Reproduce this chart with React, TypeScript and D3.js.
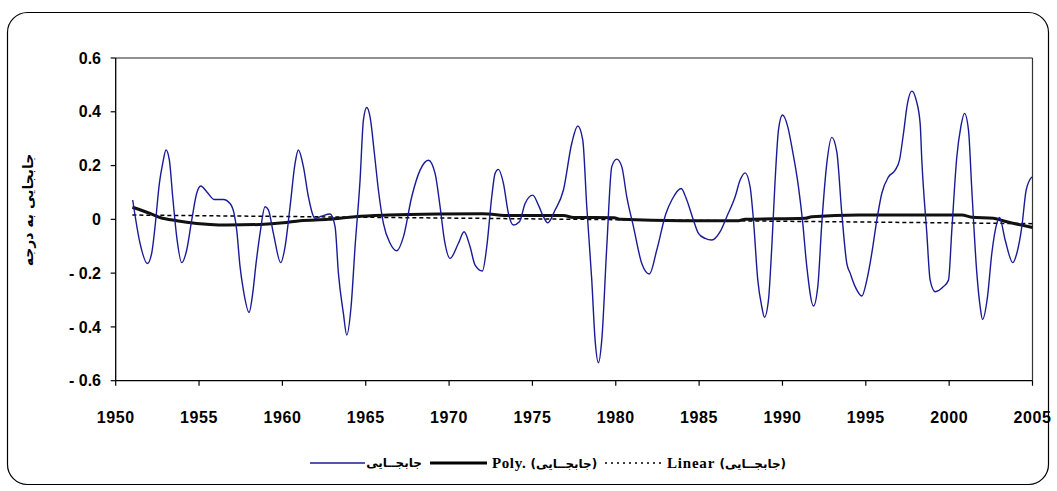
import React from "react";
import * as d3 from "d3";

const xTickYears = [1950, 1955, 1960, 1965, 1970, 1975, 1980, 1985, 1990, 1995, 2000, 2005];
const yTickValues = [-0.6, -0.4, -0.2, 0, 0.2, 0.4, 0.6];
const yTickLabels = ["-0.6", "-0.4", "-0.2", "0", "0.2", "0.4", "0.6"];

const seriesName = "جابجــایی";
const yAxisTitle = "جابجایی به درجه";

// observed displacement series (year, value)
const obsYears = [
  1951.02, 1951.46, 1951.9, 1952.16, 1952.36, 1952.62, 1952.82, 1953.02, 1953.22, 1953.42,
  1953.66, 1953.96, 1954.26, 1954.56, 1954.86, 1955.1, 1955.46, 1955.9, 1956.46, 1956.86,
  1957.1, 1957.26, 1957.46, 1957.66, 1958.0, 1958.22, 1958.42, 1958.66, 1958.96, 1959.16,
  1959.46, 1959.9, 1960.16, 1960.46, 1960.76, 1960.96, 1961.26, 1961.56, 1961.96, 1962.36,
  1962.86, 1963.16, 1963.36, 1963.66, 1963.86, 1964.12, 1964.36, 1964.66, 1964.86, 1965.06,
  1965.26, 1965.52, 1965.76, 1966.06, 1966.46, 1966.86, 1967.26, 1967.76, 1968.26, 1968.76,
  1969.16, 1969.46, 1969.72, 1970.06, 1970.56, 1970.9, 1971.26, 1971.56, 1972.0, 1972.26,
  1972.56, 1972.76, 1972.96, 1973.26, 1973.56, 1973.86, 1974.22, 1974.56, 1975.02, 1975.36,
  1975.66, 1975.92, 1976.36, 1976.86, 1977.36, 1977.72, 1978.02, 1978.26, 1978.56, 1978.76,
  1978.96, 1979.16, 1979.46, 1979.76, 1980.06, 1980.36, 1980.66, 1981.06, 1981.56, 1982.02,
  1982.46, 1983.0, 1983.36, 1983.92, 1984.26, 1984.66, 1984.96, 1985.36, 1985.76, 1986.26,
  1986.66, 1987.16, 1987.46, 1987.76, 1988.06, 1988.26, 1988.52, 1988.76, 1988.92, 1989.16,
  1989.36, 1989.56, 1989.76, 1990.0, 1990.32, 1990.56, 1990.96, 1991.2, 1991.46, 1991.86,
  1992.12, 1992.36, 1992.66, 1992.96, 1993.26, 1993.56, 1993.86, 1994.06, 1994.36, 1994.76,
  1995.06, 1995.36, 1995.66, 1995.96, 1996.36, 1996.76, 1997.02, 1997.26, 1997.5, 1997.76,
  1998.02, 1998.26, 1998.36, 1998.66, 1998.86, 1999.16, 1999.66, 1999.96, 2000.16, 2000.46,
  2000.7, 2000.92, 2001.16, 2001.36, 2001.66, 2001.86, 2002.0, 2002.3, 2002.56, 2002.86,
  2003.02, 2003.36, 2003.82, 2004.06, 2004.36, 2004.62, 2004.96,
];
const obsValues = [
  0.072, -0.089, -0.164, -0.126, -0.027, 0.134, 0.208, 0.258, 0.22, 0.084,
  -0.065, -0.161, -0.114, -0.003, 0.097, 0.124, 0.103, 0.074, 0.074, 0.059,
  0.022, -0.04, -0.176, -0.263, -0.346, -0.275, -0.164, -0.052, 0.047, 0.035,
  -0.052, -0.161, -0.102, 0.047, 0.208, 0.258, 0.196, 0.084, 0.004, 0.012,
  0.02, -0.027, -0.2, -0.35, -0.43, -0.325, -0.102, 0.146, 0.369, 0.416,
  0.381, 0.245, 0.109, -0.015, -0.089, -0.117, -0.065, 0.084, 0.183, 0.22,
  0.171, 0.047, -0.077, -0.145, -0.089, -0.046, -0.102, -0.17, -0.192, -0.102,
  0.084, 0.171, 0.186, 0.134, 0.022, -0.021, -0.009, 0.059, 0.09, 0.053,
  0.01, -0.013, 0.035, 0.109, 0.283, 0.347, 0.295, 0.047, -0.226, -0.449,
  -0.533, -0.449, -0.102, 0.196, 0.224, 0.196, 0.084, -0.027, -0.164, -0.203,
  -0.114, 0.02, 0.072, 0.115, 0.072, -0.003, -0.052, -0.071, -0.077, -0.046,
  0.01, 0.084, 0.146, 0.173, 0.121, -0.003, -0.226, -0.325, -0.364, -0.3,
  -0.102, 0.146, 0.332, 0.388, 0.344, 0.27, 0.121, -0.003, -0.176, -0.322,
  -0.25, -0.015, 0.208, 0.305, 0.251, 0.022, -0.164, -0.2, -0.25, -0.285,
  -0.226, -0.126, -0.003, 0.097, 0.158, 0.183, 0.22, 0.32, 0.431, 0.477,
  0.444, 0.357, 0.22, -0.052, -0.226, -0.269, -0.25, -0.226, -0.04, 0.233,
  0.344, 0.394, 0.332, 0.109, -0.2, -0.325, -0.372, -0.288, -0.126, -0.015,
  0.007, -0.077, -0.161, -0.126, -0.027, 0.109, 0.158,
];

// polynomial trendline as drawn
const polyYears = [
  1951, 1952.06, 1952.66, 1953.66, 1954.86, 1955.66, 1956.66, 1958.66, 1960.06, 1961.06,
  1962.76, 1964.36, 1966.36, 1969.36, 1972, 1973.66, 1976.86, 1977.46, 1979.9, 1980.3,
  1983.96, 1987.36, 1987.76, 1991.36, 1991.76, 1994.56, 2000.76, 2001.36, 2002.66, 2003.46, 2005,
];
const polyValues = [
  0.045, 0.022, 0.007, -0.005, -0.015, -0.019, -0.021, -0.019, -0.013, -0.005,
  0.0, 0.01, 0.016, 0.02, 0.021, 0.014, 0.014, 0.007, 0.006, 0.0,
  -0.005, -0.005, 0.0, 0.004, 0.01, 0.016, 0.016, 0.008, 0.004, -0.009, -0.03,
];

// linear trendline end points
const linYears = [1951, 2005];
const linValues = [0.016, -0.016];

const W = 1057;
const H = 491;
const plot = { left: 115.7, right: 1032.5, top: 58, bottom: 380.7 };

export default function App() {
  const x = d3.scaleLinear().domain([1950, 2005]).range([plot.left, plot.right]);
  const y = d3.scaleLinear().domain([-0.6, 0.6]).range([plot.bottom, plot.top]);

  const line = d3
    .line<[number, number]>()
    .x((d) => x(d[0]))
    .y((d) => y(d[1]));

  const obs = obsYears.map((yr, i) => [yr, obsValues[i]] as [number, number]);
  const poly = polyYears.map((yr, i) => [yr, polyValues[i]] as [number, number]);
  const lin = linYears.map((yr, i) => [yr, linValues[i]] as [number, number]);

  const obsPath = line.curve(d3.curveMonotoneX)(obs) || "";
  const polyPath = line.curve(d3.curveMonotoneX)(poly) || "";
  const linPath = line.curve(d3.curveLinear)(lin) || "";

  const numFont = "'Liberation Sans', Arial, sans-serif";
  const legFont = "'Liberation Serif', 'Times New Roman', serif";
  const arFont = "'DejaVu Sans', sans-serif";
  const legY = 463;

  return (
    <svg
      width={W}
      height={H}
      viewBox={`0 0 ${W} ${H}`}
      style={{ position: "absolute", left: 0, top: 0, background: "#fff" }}
    >
      <rect x={0} y={0} width={W} height={H} fill="#fff" />
      {/* outer frame */}
      <rect x={7.5} y={12.5} width={1041} height={472} rx={20} ry={20} fill="none" stroke="#000" strokeWidth={1.2} />

      {/* plot frame */}
      <line x1={plot.left} x2={plot.right} y1={plot.top} y2={plot.top} stroke="#222" strokeWidth={1.2} />
      <line x1={plot.right} x2={plot.right} y1={plot.top} y2={plot.bottom} stroke="#333" strokeWidth={1.2} />

      {/* y axis */}
      <line x1={plot.left} x2={plot.left} y1={plot.top} y2={plot.bottom} stroke="#000" strokeWidth={1.3} />
      {yTickValues.map((v, i) => (
        <g key={"yt" + i}>
          <line x1={plot.left - 5} x2={plot.left} y1={y(v)} y2={y(v)} stroke="#000" strokeWidth={1.2} />
          <text
            x={101}
            y={y(v)}
            dy="0.35em"
            textAnchor="end"
            fontFamily={numFont}
            fontWeight="bold"
            fontSize={16}
            fill="#000"
          >
            {yTickLabels[i].replace("-", "- ")}
          </text>
        </g>
      ))}

      {/* x axis */}
      <line x1={plot.left} x2={plot.right} y1={plot.bottom} y2={plot.bottom} stroke="#000" strokeWidth={1.3} />
      {xTickYears.map((yr) => (
        <g key={"xt" + yr}>
          <line x1={x(yr)} x2={x(yr)} y1={plot.bottom} y2={plot.bottom + 5} stroke="#000" strokeWidth={1.2} />
          <text
            x={x(yr)}
            y={423}
            textAnchor="middle"
            fontFamily={numFont}
            fontWeight="bold"
            fontSize={16}
            letterSpacing={0.6}
            fill="#000"
          >
            {yr}
          </text>
        </g>
      ))}

      {/* y axis title */}
      <text
        transform={`translate(33, 210) rotate(-90)`}
        textAnchor="middle"
        fontFamily={arFont}
        fontWeight="bold"
        fontSize={14}
        fill="#000"
      >
        {yAxisTitle}
      </text>

      {/* series */}
      <path d={linPath} fill="none" stroke="#000" strokeWidth={1.5} strokeDasharray="4,3" />
      <path d={polyPath} fill="none" stroke="#111" strokeWidth={3} strokeLinejoin="round" />
      <path d={obsPath} fill="none" stroke="#1a1a96" strokeWidth={1.4} strokeLinejoin="round" />

      {/* legend */}
      <line x1={310} x2={365} y1={legY} y2={legY} stroke="#1a1a96" strokeWidth={1.4} />
      <text x={394} y={legY} dy="0.35em" textAnchor="middle" fontFamily={arFont} fontWeight="bold" fontSize={12} fill="#000">
        {seriesName}
      </text>
      <line x1={430} x2={487} y1={legY} y2={legY} stroke="#000" strokeWidth={3} />
      <text x={492} y={legY} dy="0.35em" fontFamily={legFont} fontWeight="bold" fontSize={15} letterSpacing={0.6} fill="#000" direction="ltr">
        <tspan>Poly. </tspan>
        <tspan fontFamily={arFont} fontSize={12} letterSpacing={0}>{"(" + seriesName + ")"}</tspan>
      </text>
      <line x1={605} x2={663} y1={legY} y2={legY} stroke="#000" strokeWidth={1.5} strokeDasharray="2,4" />
      <text x={667} y={legY} dy="0.35em" fontFamily={legFont} fontWeight="bold" fontSize={15} letterSpacing={0.8} fill="#000" direction="ltr">
        <tspan>Linear </tspan>
        <tspan fontFamily={arFont} fontSize={12} letterSpacing={0}>{"(" + seriesName + ")"}</tspan>
      </text>
    </svg>
  );
}
